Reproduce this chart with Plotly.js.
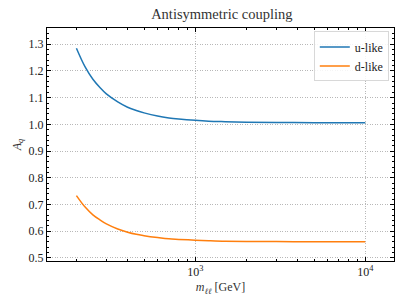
<!DOCTYPE html>
<html>
<head>
<meta charset="utf-8">
<script src="https://cdn.plot.ly/plotly-3.0.1.min.js"></script>
<style>html,body{margin:0;padding:0;background:#fff;}#chart{width:407px;height:305px;}</style>
</head>
<body>
<div id="chart"></div>
<script>
const mass = [200, 225, 250, 275, 300, 350, 400, 450, 500, 600, 700, 800, 1000, 1200, 1500, 2000, 3000, 5000, 7000, 10000];
const uLike = [1.285, 1.215, 1.169, 1.138, 1.114, 1.084, 1.064, 1.052, 1.043, 1.031, 1.024, 1.020, 1.015, 1.012, 1.010, 1.008, 1.007, 1.006, 1.006, 1.006];
const dLike = [0.733, 0.690, 0.661, 0.642, 0.627, 0.608, 0.596, 0.588, 0.583, 0.576, 0.571, 0.569, 0.566, 0.564, 0.562, 0.561, 0.561, 0.560, 0.560, 0.560];
const seriesNames = ['u-like', 'd-like'];
const xTickVals = [1000, 10000];
const xTickText = ['10<sup>3</sup>', '10<sup>4</sup>'];

const font = 'Liberation Serif, DejaVu Serif, serif';
const traces = [
  {x: mass, y: uLike, name: seriesNames[0], mode: 'lines', line: {color: '#1f77b4', width: 1.5, shape: 'spline'}},
  {x: mass, y: dLike, name: seriesNames[1], mode: 'lines', line: {color: '#ff7f0e', width: 1.5, shape: 'spline'}}
];
const axisCommon = {
  showline: true, linecolor: '#000', linewidth: 1, mirror: 'allticks',
  ticks: 'inside', ticklen: 4, tickcolor: '#000',
  showgrid: true, gridcolor: '#b8b8b8', griddash: '1px,1.5px', gridwidth: 1,
  zeroline: false, tickfont: {family: font, size: 12, color: '#222'}
};
const layout = {
  width: 407, height: 305,
  margin: {l: 47, r: 13, t: 28, b: 44},
  paper_bgcolor: '#fff', plot_bgcolor: '#fff',
  font: {family: font, color: '#222'},
  title: {text: 'Antisymmetric coupling', font: {family: font, size: 14.5, color: '#333'}, x: 0.545, xanchor: 'center', y: 0.97, yanchor: 'top'},
  showlegend: true,
  legend: {x: 0.985, xanchor: 'right', y: 0.985, yanchor: 'top', bgcolor: 'rgba(255,255,255,0.85)', bordercolor: '#d8d8d8', borderwidth: 1, font: {family: font, size: 12, color: '#222'}},
  xaxis: Object.assign({}, axisCommon, {
    type: 'log', range: [2.128, 4.169],
    tickvals: xTickVals, ticktext: xTickText,
    minor: {ticks: 'inside', ticklen: 2, tickcolor: '#000', showgrid: false, dtick: 'D1'},
    title: {text: '<i>m</i><sub><i>ℓℓ</i></sub> [GeV]', font: {family: font, size: 12, color: '#333'}, standoff: 4}
  }),
  yaxis: Object.assign({}, axisCommon, {
    range: [0.488, 1.361], dtick: 0.1, tickformat: '.1f',
    minor: {ticks: 'inside', ticklen: 2, tickcolor: '#000', showgrid: false, dtick: 0.02},
    title: {text: '<i>A<sub>q</sub></i>', font: {family: font, size: 12, color: '#333'}, standoff: 4}
  })
};
Plotly.newPlot('chart', traces, layout, {displayModeBar: false, staticPlot: true});
</script>
</body>
</html>
